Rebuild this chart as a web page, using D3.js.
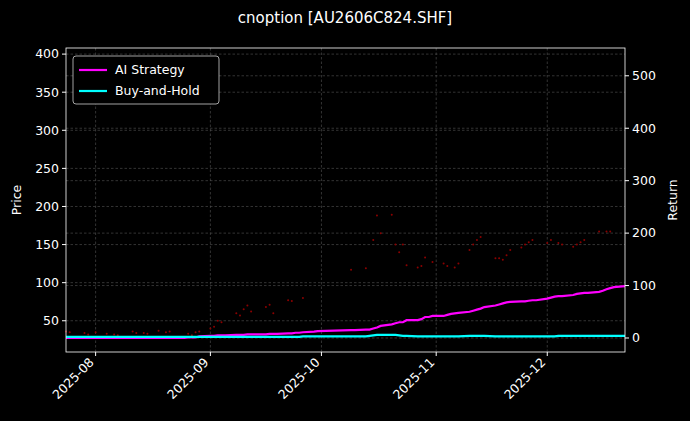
<!DOCTYPE html>
<html><head><meta charset="utf-8">
<script src="https://cdn.jsdelivr.net/npm/d3@7/dist/d3.min.js"></script>
<style>body{margin:0;background:#000}svg{display:block}text{font-family:"DejaVu Sans",sans-serif}</style>
</head><body><svg id="c" width="690" height="421"></svg>
<script>
const dates=["2025-07-24","2025-07-25","2025-07-28","2025-07-29","2025-07-30","2025-07-31",
"2025-08-01","2025-08-04","2025-08-05","2025-08-06","2025-08-07","2025-08-08","2025-08-11","2025-08-12","2025-08-13","2025-08-14","2025-08-15","2025-08-18","2025-08-19","2025-08-20","2025-08-21","2025-08-22","2025-08-25","2025-08-26","2025-08-27","2025-08-28","2025-08-29",
"2025-09-01","2025-09-02","2025-09-03","2025-09-04","2025-09-05","2025-09-08","2025-09-09","2025-09-10","2025-09-11","2025-09-12","2025-09-15","2025-09-16","2025-09-17","2025-09-18","2025-09-19","2025-09-22","2025-09-23","2025-09-24","2025-09-25","2025-09-26","2025-09-29","2025-09-30",
"2025-10-09","2025-10-10","2025-10-13","2025-10-14","2025-10-15","2025-10-16","2025-10-17","2025-10-20","2025-10-21","2025-10-22","2025-10-23","2025-10-24","2025-10-27","2025-10-28","2025-10-29","2025-10-30","2025-10-31",
"2025-11-03","2025-11-04","2025-11-05","2025-11-06","2025-11-07","2025-11-10","2025-11-11","2025-11-12","2025-11-13","2025-11-14","2025-11-17","2025-11-18","2025-11-19","2025-11-20","2025-11-21","2025-11-24","2025-11-25","2025-11-26","2025-11-27","2025-11-28",
"2025-12-01","2025-12-02","2025-12-03","2025-12-04","2025-12-05","2025-12-08","2025-12-09","2025-12-10","2025-12-11","2025-12-12","2025-12-15","2025-12-16","2025-12-17","2025-12-18","2025-12-19","2025-12-22"];
const price=[36,35,null,34,32,null,
35,33,null,32,31,null,36,34,null,34,33,37,null,35,36,null,null,33,31,35,36,
40,42,50,48,null,60,57,65,70,62,null,68,71,60,null,77,76,null,null,80,null,null,
117,null,119,null,156,188,165,189,150,140,150,123,120,122,133,null,127,
125,122,null,120,125,143,150,156,160,null,132,132,130,136,143,146,150,153,156,null,
152,156,null,152,150,147,150,153,156,null,167,null,167,167,null,null];
const aiRet=[0,0,0,0,0,0,
0,0,0,0,0,0,0,0,0,0,0,0,0,0,0,0,0,1,1,1,3,
4,4,5,5,5,6,6,6,7,7,7,7,8,8,8,9,9,10,10,11,12,13,
15,15,16,16,18,20,23,26,28,30,30,34,34,36,40,40,42,
42,44,46,47,48,50,52,54,56,59,62,64,66,68,69,70,70,71,72,72,
75,77,79,80,80,82,84,85,86,86,88,90,93,95,97,99];
const bhRet=[2,2,2,2,2,2,
2,2,2,2,2,2,2,2,2,2,2,2,2,2,2,2,2,2,2,2,2,
2,2,2,2,2,2,2,2,2,2,2,2,2,2,2,2,2,2,2,3,3,3,
3,3,3,4,5,6,6,6,6,5,4,4,3,3,3,3,3,
3,3,3,3,3,4,4,4,4,4,3,3,3,3,3,3,3,3,3,3,
3,3,3,4,4,4,4,4,4,4,4,4,4,4,4,4];
const priceTicks=[50,100,150,200,250,300,350,400];
const retTicks=[0,100,200,300,400,500];
const monthTicks=["2025-08-01","2025-09-01","2025-10-01","2025-11-01","2025-12-01"];

const svg=d3.select("#c");
const L=66,R=625,T=48,B=352;
const P=d3.timeParse("%Y-%m-%d");
const dd=dates.map(P);
const x=d3.scaleTime().domain([dd[0],dd[dd.length-1]]).range([L,R]);
const y=d3.scaleLinear().domain([9,408]).range([B,T]);
const y2=d3.scaleLinear().domain([-26.7,553]).range([B,T]);
svg.append("rect").attr("width",690).attr("height",421).attr("fill","#000");
const g=svg.append("g");
const grid=g.append("g").attr("stroke","#555").attr("stroke-width",0.6).attr("stroke-dasharray","2.5,2");
priceTicks.forEach(t=>grid.append("line").attr("x1",L).attr("x2",R).attr("y1",y(t)).attr("y2",y(t)));
retTicks.forEach(t=>grid.append("line").attr("x1",L).attr("x2",R).attr("y1",y2(t)).attr("y2",y2(t)));
monthTicks.map(P).forEach(t=>grid.append("line").attr("x1",x(t)).attr("x2",x(t)).attr("y1",T).attr("y2",B));
g.append("g").selectAll("circle").data(dates.map((d,i)=>[dd[i],price[i]]).filter(d=>d[1]!=null))
 .join("circle").attr("cx",d=>x(d[0])).attr("cy",d=>y(d[1])).attr("r",1).attr("fill","#8b0000");
const ln=(arr)=>d3.line().x((d,i)=>x(dd[i])).y(d=>y2(d))(arr);
g.append("path").attr("d",ln(aiRet)).attr("fill","none").attr("stroke","#ff00ff").attr("stroke-width",2.2);
g.append("path").attr("d",ln(bhRet)).attr("fill","none").attr("stroke","#00ffff").attr("stroke-width",2.2);
g.append("rect").attr("x",L).attr("y",T).attr("width",R-L).attr("height",B-T).attr("fill","none").attr("stroke","#fff").attr("stroke-width",0.8);
const ax=svg.append("g").attr("fill","#fff").attr("font-size",12.5);
priceTicks.forEach(t=>{ax.append("line").attr("x1",L-4).attr("x2",L).attr("y1",y(t)).attr("y2",y(t)).attr("stroke","#fff");
 ax.append("text").attr("x",L-7).attr("y",y(t)).attr("dy","0.35em").attr("text-anchor","end").text(t);});
retTicks.forEach(t=>{ax.append("line").attr("x1",R).attr("x2",R+4).attr("y1",y2(t)).attr("y2",y2(t)).attr("stroke","#fff");
 ax.append("text").attr("x",R+7).attr("y",y2(t)).attr("dy","0.35em").text(t);});
monthTicks.forEach(s=>{const px=x(P(s));
 ax.append("line").attr("x1",px).attr("x2",px).attr("y1",B).attr("y2",B+4).attr("stroke","#fff");
 ax.append("text").attr("transform",`translate(${px-4},${B+8}) rotate(-45)`).attr("text-anchor","end").attr("dy","0.35em").text(s.slice(0,7));});
ax.append("text").attr("transform",`translate(21,${(T+B)/2}) rotate(-90)`).attr("text-anchor","middle").text("Price");
ax.append("text").attr("transform",`translate(677,${(T+B)/2}) rotate(-90)`).attr("text-anchor","middle").text("Return");
svg.append("text").attr("x",345).attr("y",23).attr("text-anchor","middle").attr("fill","#fff").attr("font-size",15).text("cnoption [AU2606C824.SHF]");
const lg=svg.append("g");
lg.append("rect").attr("x",73).attr("y",56).attr("width",146).attr("height",48).attr("rx",3).attr("fill","#000").attr("stroke","#ccc").attr("stroke-width",0.8);
[["AI Strategy","#ff00ff"],["Buy-and-Hold","#00ffff"]].forEach((d,i)=>{const yy=70+i*21;
 lg.append("line").attr("x1",79).attr("x2",107).attr("y1",yy).attr("y2",yy).attr("stroke",d[1]).attr("stroke-width",2.2);
 lg.append("text").attr("x",115).attr("y",yy).attr("dy","0.35em").attr("fill","#fff").attr("font-size",12.5).text(d[0]);});
</script></body></html>
